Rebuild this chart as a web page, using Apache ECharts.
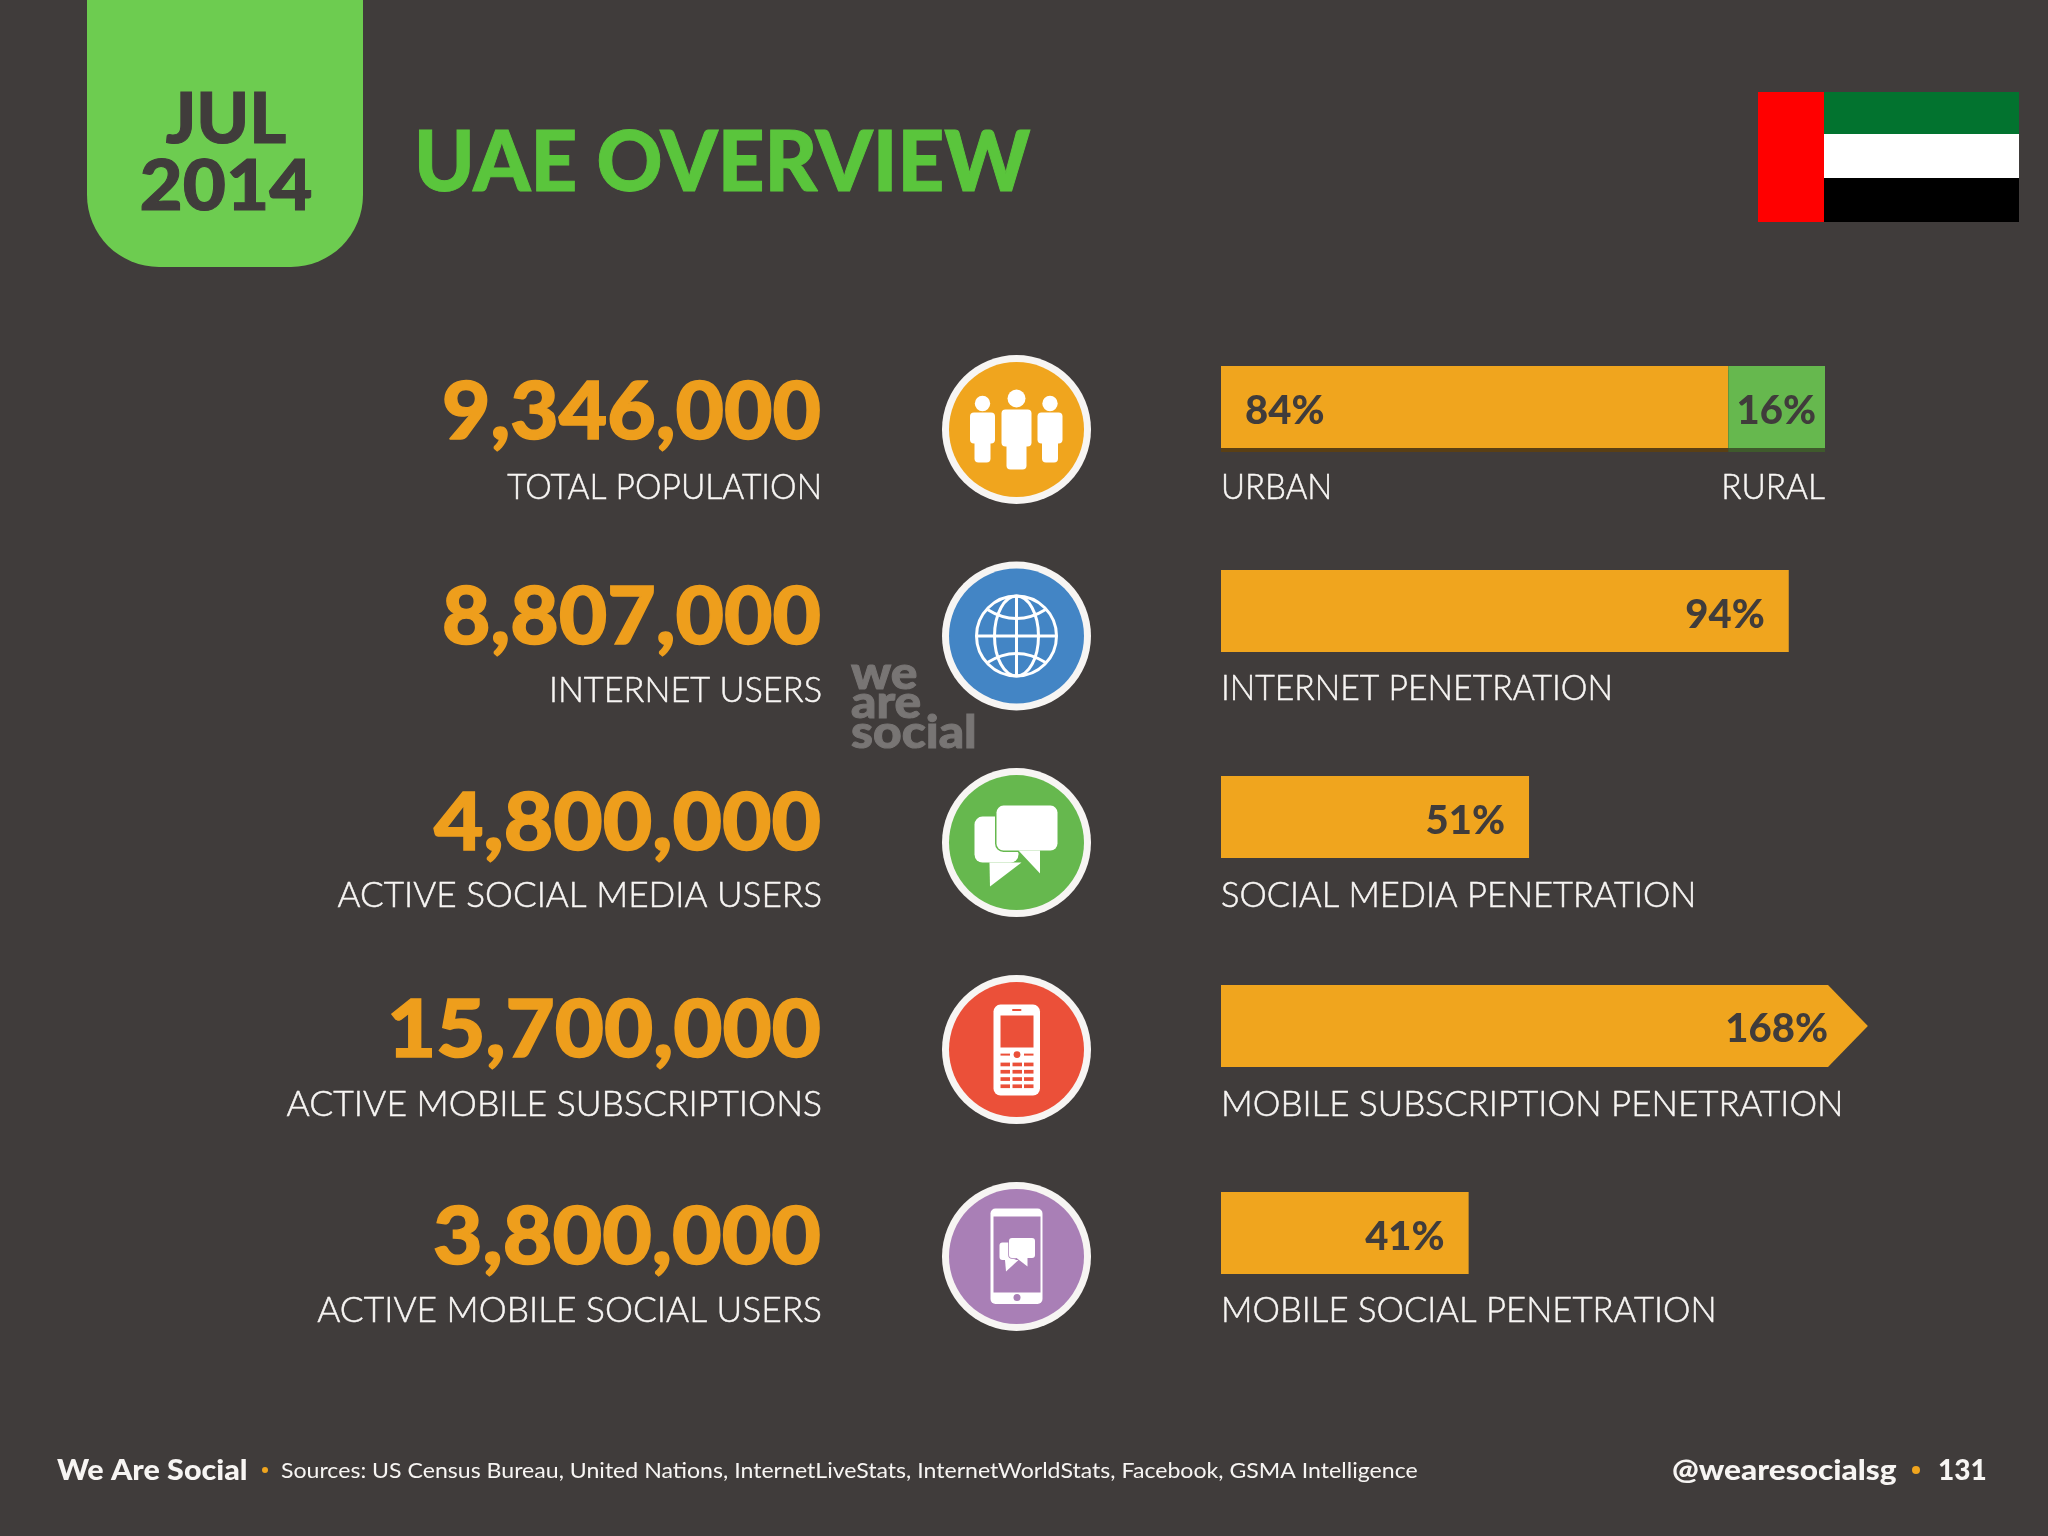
<!DOCTYPE html>
<html>
<head>
<meta charset="utf-8">
<style>html,body{margin:0;padding:0;background:#403c3b}#main{width:2048px;height:1536px}</style>
<script src="https://cdn.jsdelivr.net/npm/echarts@6/dist/echarts.min.js"></script>
</head>
<body>
<div id="main"></div>
<script>
// values
const totals = [9346000, 8807000, 4800000, 15700000, 3800000];
const totalLabels = ['TOTAL POPULATION', 'INTERNET USERS', 'ACTIVE SOCIAL MEDIA USERS', 'ACTIVE MOBILE SUBSCRIPTIONS', 'ACTIVE MOBILE SOCIAL USERS'];
const barLabels = ['URBAN', 'INTERNET PENETRATION', 'SOCIAL MEDIA PENETRATION', 'MOBILE SUBSCRIPTION PENETRATION', 'MOBILE SOCIAL PENETRATION'];
const urbanShare = [84];
const ruralShare = [16];
const penetration = [94, 51, 168, 41];
const ruralLabel = 'RURAL';
const sources = 'Sources: US Census Bureau, United Nations, InternetLiveStats, InternetWorldStats, Facebook, GSMA Intelligence';

// layout, in page pixels
const BG = '#403c3b', ORANGE = '#f0a51e', GREEN = '#66b84e', WHITE = '#f7f5f3', ICON = '#ffffff';
const FONT = 'Lato';
const barTop = [366, 570, 776, 985, 1192];
const barHeight = 82;
const barLeft = 1221;
const pxPerPercent = 6.04;
const axisCap = 107.1;    // arrow tip; longer bars are cut here
const arrowShoulder = 100.5;
const numberY = [413, 618, 824, 1031, 1238];
const labelY = [487, 690, 895, 1104, 1310];
const barLabelY = [487, 688, 895, 1104, 1310];
const iconY = [429.5, 636, 842.6, 1049.6, 1256.5];
const iconColors = [ORANGE, '#4385c5', GREEN, '#eb5039', '#a97fb6'];
// horizontal squeeze per text, Lato is not the slide's font
const numberSx = [1.045, 1.045, 1.067, 1.061, 1.07];
const totalLabelSx = [0.932, 0.954, 0.977, 0.986, 0.981];
const barLabelSx = [0.918, 0.937, 0.958, 0.971, 0.963];

function txt(str, x, y, size, weight, fill, align, sx, fatten) {
    return {
        type: 'text', x: x, y: y, scaleX: sx || 1, silent: true,
        style: {
            text: str, fontFamily: FONT, fontSize: size, fontWeight: weight, fill: fill, align: align || 'left', verticalAlign: 'middle',
            stroke: fatten ? fill : null, lineWidth: fatten || 0
        }
    };
}
const rect = (x, y, w, h, r, fill) => ({ type: 'rect', shape: { x: x, y: y, width: w, height: h, r: r || 0 }, style: { fill: fill || ICON } });
const circle = (cx, cy, r, fill) => ({ type: 'circle', shape: { cx: cx, cy: cy, r: r }, style: { fill: fill || ICON } });
const poly = (points, fill) => ({ type: 'polygon', shape: { points: points }, style: { fill: fill || ICON } });

// speech bubble: rounded box plus tail, with an optional halo in the circle colour
function bubble(x0, y0, x1, y1, r, tail, halo, haloWidth) {
    const box = rect(x0, y0, x1 - x0, y1 - y0, r);
    const tri = poly(tail);
    if (!halo) return [box, tri];
    const ring = el => Object.assign({}, el, { style: { fill: halo, stroke: halo, lineWidth: haloWidth } });
    return [ring(box), ring(tri), box, tri];
}

function person(cx, headY, headR, bodyW, bodyT, bodyB, legW, legB) {
    return [
        circle(cx, headY, headR),
        rect(cx - bodyW / 2, bodyT, bodyW, bodyB - bodyT, 4),
        rect(cx - legW / 2, bodyB - 6, legW, legB - bodyB + 6, 4)
    ];
}
function globeIcon() {
    const line = { fill: null, stroke: ICON, lineWidth: 3 };
    return [
        { type: 'circle', shape: { cx: 0, cy: 0, r: 40 }, style: line },
        { type: 'ellipse', shape: { cx: 0, cy: 0, rx: 22, ry: 40 }, style: line },
        { type: 'line', shape: { x1: 0, y1: -40, x2: 0, y2: 40 }, style: line },
        { type: 'line', shape: { x1: -40, y1: 0, x2: 40, y2: 0 }, style: line },
        { type: 'bezierCurve', shape: { x1: -30, y1: -27, cpx1: 0, cpy1: -8, x2: 30, y2: -27 }, style: line },
        { type: 'bezierCurve', shape: { x1: -30, y1: 27, cpx1: 0, cpy1: 8, x2: 30, y2: 27 }, style: line }
    ];
}
function phoneIcon(c) {
    const keys = [];
    [13, 20.3, 27.6, 34.8].forEach(y => {
        [-16, -4, 7.5].forEach(x => keys.push(rect(x, y, 9.5, 3.7, 0, c)));
    });
    return [
        rect(-23, -45, 46.5, 91, 7),
        rect(-16, -34, 33, 32, 0, c),
        rect(-4.5, -40.5, 9.5, 2, 1, c),
        circle(0.5, 5, 3.4, c),
        rect(-16, 4, 9.5, 2, 0, c),
        rect(7.5, 4, 9.5, 2, 0, c)
    ].concat(keys);
}
function smartIcon(c) {
    return [
        rect(-26, -48, 52, 95.5, 5),
        rect(-23, -40, 47, 76, 0, c)
    ].concat(
        [circle(0.5, 41, 3.5, c)],
        bubble(-17, -14, 0, 3.5, 3, [[-11.5, 3.5], [-10.5, 15], [2, 3.5]]),
        bubble(-7.5, -18.5, 18.5, 1.5, 3, [[0, 1.5], [11, 10], [11, 1.5]], c, 1.5)
    );
}
const iconParts = [
    () => person(0, -31, 9, 30, -20, 17, 20, 40).concat(person(-34, -26, 7.7, 25, -17, 14, 16, 33), person(33.5, -26, 7.7, 25, -17, 14, 16, 33)),
    globeIcon,
    c => bubble(-42, -26, 2, 20, 8, [[-27, 20], [-26.5, 44], [5, 20]]).concat(
        bubble(-20, -37, 41, 8, 7, [[2, 8], [23.5, 31], [23.5, 8]], c, 3)),
    phoneIcon,
    smartIcon
];

const decor = [
    // date tag
    rect(87, -80, 276, 347, 72, '#6dcc50'),
    txt('JUL', 226, 120, 71, 900, BG, 'center', 1, 1),
    txt('2014', 226, 187, 71, 900, BG, 'center', 1.05, 1),
    txt('UAE OVERVIEW', 414, 164, 84, 900, '#5ac53c', 'left', 0.97, 1),
    // flag
    rect(1758, 92, 66, 130, 0, '#ff0000'),
    rect(1824, 92, 195, 42, 0, '#02732f'),
    rect(1824, 134, 195, 44, 0, '#ffffff'),
    rect(1824, 178, 195, 44, 0, '#000000'),
    // watermark
    txt('we', 851, 674, 46, 900, '#787574', 'left', 1.08, 1),
    txt('are', 851, 703, 46, 900, '#787574', 'left', 1.08, 1),
    txt('social', 851, 733, 46, 900, '#787574', 'left', 1.08, 1),
    // footer
    txt('We Are Social', 57, 1471, 28, 900, WHITE, 'left', 1.09),
    circle(265, 1470, 3, ORANGE),
    txt(sources, 281, 1471, 22, 400, WHITE, 'left', 1.05),
    txt('@wearesocialsg', 1672, 1471, 28, 900, WHITE, 'left', 1.13),
    circle(1916, 1470, 4, ORANGE),
    txt('131', 1938, 1471, 28, 900, WHITE),
    txt(ruralLabel, 1825, barLabelY[0], 36, 300, WHITE, 'right', 0.93, 0.5)
];
totals.forEach((v, i) => {
    decor.push(txt(v.toLocaleString('en-US'), 821, numberY[i], 80, 900, '#ee9e1c', 'right', numberSx[i], 1.5));
    decor.push(txt(totalLabels[i], 822, labelY[i], 36, 300, WHITE, 'right', totalLabelSx[i], 0.5));
    decor.push(txt(barLabels[i], 1221, barLabelY[i], 36, 300, WHITE, 'left', barLabelSx[i], 0.5));
    decor.push({
        type: 'group', x: 1016.5, y: iconY[i],
        children: [circle(0, 0, 74.5, WHITE), circle(0, 0, 67.5, iconColors[i])].concat(iconParts[i](iconColors[i]))
    });
});

const barCategories = [[barLabels[0]], [barLabels[1]], [barLabels[2]], [barLabels[3]], [barLabels[4]]];
const barLabel = (pos, dist) => ({
    show: true, position: pos, distance: dist, offset: [0, 4], formatter: '{c}%',
    color: BG, fontFamily: FONT, fontWeight: 900, fontSize: 40
});

// one small grid per row because the rows are not evenly spaced on the slide
const grids = barTop.map(t => ({ left: barLeft, top: t, width: pxPerPercent * axisCap, height: barHeight }));
const xAxes = barTop.map((t, i) => ({ type: 'value', gridIndex: i, min: 0, max: axisCap, show: false }));
const yAxes = barTop.map((t, i) => ({ type: 'category', gridIndex: i, data: barCategories[i], show: false }));

function plainBar(i, name, data, color, stack, label, shadow) {
    return {
        type: 'bar', name: name, xAxisIndex: i, yAxisIndex: i, data: data, stack: stack, barWidth: '100%',
        itemStyle: shadow ? { color: color, shadowColor: shadow, shadowOffsetY: 4 } : { color: color },
        label: label, silent: true
    };
}

const series = [
    plainBar(0, 'Urban', urbanShare, ORANGE, 'pop', barLabel('insideLeft', 24), '#5a3f14'),
    plainBar(0, 'Rural', ruralShare, GREEN, 'pop', barLabel('insideRight', 9), '#3f5a2c'),
    plainBar(1, 'Internet', [penetration[0]], ORANGE, null, barLabel('insideRight', 24)),
    plainBar(2, 'Social media', [penetration[1]], ORANGE, null, barLabel('insideRight', 24)),
    {
        // 168% runs off the scale so it ends in an arrow
        type: 'custom', name: 'Mobile subscriptions', xAxisIndex: 3, yAxisIndex: 3,
        data: [[penetration[2], 0]], encode: { x: 0, y: 1 }, clip: false, silent: true,
        renderItem: (params, api) => {
            const value = api.value(0);
            const mid = api.coord([0, api.value(1)]);
            const half = api.size([0, 1])[1] / 2;
            const shoulder = api.coord([Math.min(value, arrowShoulder), 0])[0];
            const tip = api.coord([Math.min(value, axisCap), 0])[0];
            return {
                type: 'group',
                children: [
                    {
                        type: 'polygon',
                        shape: { points: [[mid[0], mid[1] - half], [shoulder, mid[1] - half], [tip, mid[1]], [shoulder, mid[1] + half], [mid[0], mid[1] + half]] },
                        style: { fill: ORANGE }
                    },
                    {
                        type: 'text', x: shoulder, y: mid[1] + 3,
                        style: { text: value + '%', fill: BG, fontFamily: FONT, fontWeight: 900, fontSize: 40, align: 'right', verticalAlign: 'middle' }
                    }
                ]
            };
        }
    },
    plainBar(4, 'Mobile social', [penetration[3]], ORANGE, null, barLabel('insideRight', 24))
];

const myChart = echarts.init(document.getElementById('main'));
myChart.setOption({
    animation: false,
    backgroundColor: BG,
    tooltip: { show: false },
    grid: grids,
    xAxis: xAxes,
    yAxis: yAxes,
    series: series,
    graphic: { elements: decor }
});
</script>
</body>
</html>
